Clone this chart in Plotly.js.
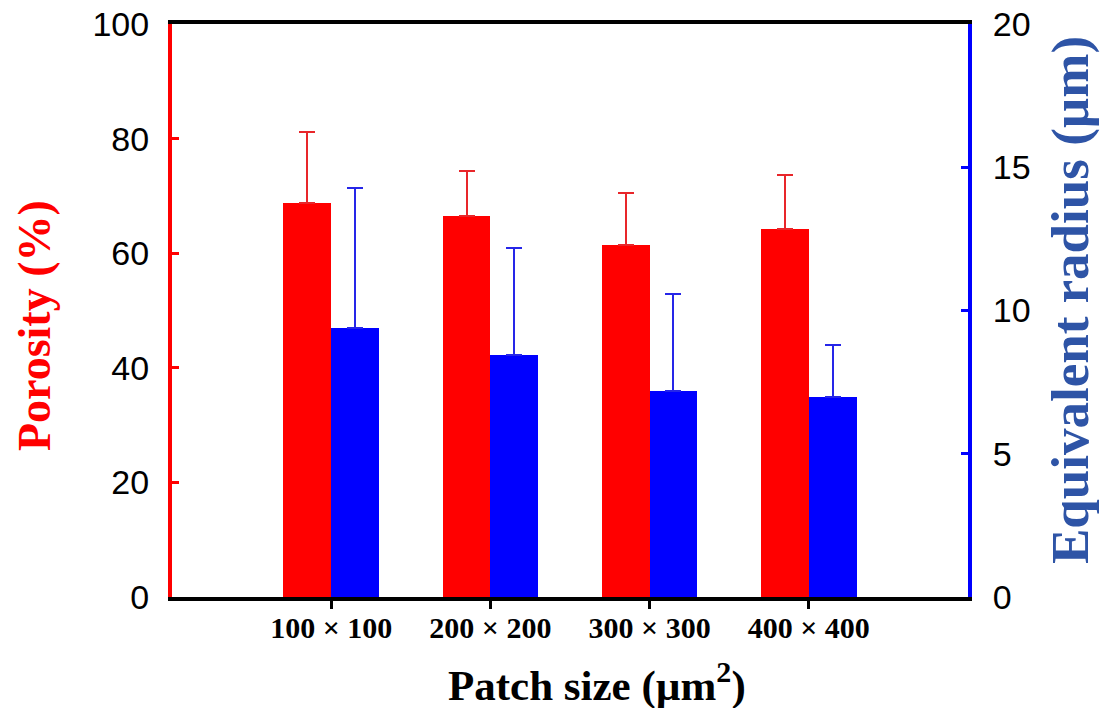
<!DOCTYPE html>
<html>
<head>
<meta charset="utf-8">
<script src="https://cdn.plot.ly/plotly-3.0.1.min.js"></script>
<style>html,body{margin:0;padding:0;background:#fff;}#chart{width:1101px;height:708px;}</style>
</head>
<body>
<div id="chart"></div>
<script>
var categories = ["100 × 100", "200 × 200", "300 × 300", "400 × 400"];
var porosity = [68.8, 66.5, 61.5, 64.2];
var porosityErr = [12.4, 7.8, 9.0, 9.4];
var radius = [9.38, 8.45, 7.2, 6.97];
var radiusErr = [4.89, 3.73, 3.39, 1.83];
var zeros = [0, 0, 0, 0];
var xTitle = 'Patch size (µm<sup>2</sup>)';
var yTitle = 'Porosity (%)';
var y2Title = 'Equivalent radius (µm)';

var serif = 'Liberation Serif, Times New Roman, serif';
var sans = 'Liberation Sans, Arial, sans-serif';

var traces = [
  {
    type: 'bar', x: categories, y: porosity, yaxis: 'y', name: 'Porosity',
    width: 0.3, offset: -0.3,
    marker: {color: '#ff0000', line: {width: 0}},
    error_y: {type: 'data', symmetric: false, array: porosityErr, arrayminus: zeros,
              color: '#e8262a', thickness: 2, width: 8}
  },
  {
    type: 'bar', x: categories, y: radius, yaxis: 'y2', name: 'Equivalent radius',
    width: 0.3, offset: 0,
    marker: {color: '#0000ff', line: {width: 0}},
    error_y: {type: 'data', symmetric: false, array: radiusErr, arrayminus: zeros,
              color: '#2626e8', thickness: 2, width: 8}
  }
];

var layout = {
  width: 1101, height: 708,
  margin: {l: 172, r: 133, t: 24, b: 111},
  paper_bgcolor: '#ffffff', plot_bgcolor: '#ffffff',
  showlegend: false,
  bargap: 0,
  xaxis: {
    type: 'category', range: [-1, 4],
    showgrid: false, zeroline: false,
    showline: true, linecolor: '#000000', linewidth: 4, mirror: true,
    ticks: 'outside', ticklen: 8, tickwidth: 3, tickcolor: '#000000',
    ticklabelstandoff: -7,
    tickfont: {family: serif, size: 30, color: '#000000', weight: 'bold'}
  },
  yaxis: {
    range: [0, 100], tickvals: [0, 20, 40, 60, 80, 100],
    showgrid: false, zeroline: false,
    showline: true, linecolor: '#ff0000', linewidth: 4,
    ticks: 'inside', ticklen: 7, tickwidth: 3, tickcolor: '#ff0000',
    ticklabelstandoff: 12,
    tickfont: {family: sans, size: 34, color: '#000000'}
  },
  yaxis2: {
    overlaying: 'y', side: 'right',
    range: [0, 20], tickvals: [0, 5, 10, 15, 20],
    showgrid: false, zeroline: false,
    showline: true, linecolor: '#0000ff', linewidth: 4,
    ticks: 'inside', ticklen: 7, tickwidth: 3, tickcolor: '#0000ff',
    ticklabelstandoff: 14,
    tickfont: {family: sans, size: 34, color: '#000000'}
  },
  annotations: [
    {text: xTitle, xref: 'paper', yref: 'paper', x: 0.534, y: -0.150,
     xanchor: 'center', yanchor: 'middle', showarrow: false,
     font: {family: serif, size: 43, color: '#000000', weight: 'bold'}},
    {text: yTitle, xref: 'paper', yref: 'paper', x: -0.172, y: 0.473, textangle: -90,
     xanchor: 'center', yanchor: 'middle', showarrow: false,
     font: {family: serif, size: 46, color: '#ff0000', weight: 'bold'}},
    {text: y2Title, xref: 'paper', yref: 'paper', x: 1.128, y: 0.518, textangle: -90,
     xanchor: 'center', yanchor: 'middle', showarrow: false,
     font: {family: serif, size: 53, color: '#2e54a6', weight: 'bold'}}
  ]
};

Plotly.newPlot('chart', traces, layout, {staticPlot: true, displayModeBar: false});
</script>
</body>
</html>
